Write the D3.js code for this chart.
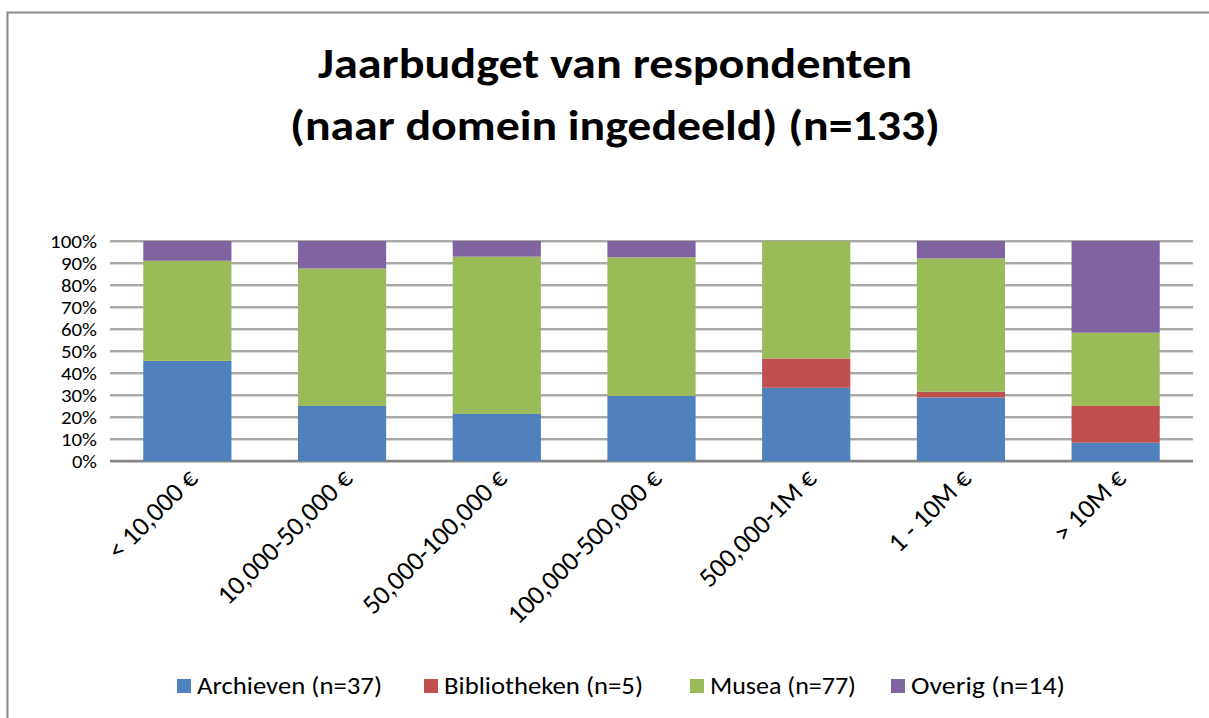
<!DOCTYPE html>
<html>
<head>
<meta charset="utf-8">
<script src="https://cdn.jsdelivr.net/npm/d3@7"></script>
<style>
  body { margin: 0; background: #fff; }
  svg { display: block; font-family: Carlito, Calibri, Lato, sans-serif; }
</style>
</head>
<body>
<script>
// categories and series (share per budget class, %)
var categories = ["< 10,000 €", "10,000-50,000 €", "50,000-100,000 €", "100,000-500,000 €", "500,000-1M €", "1 - 10M €", "> 10M €"];
var seriesNames = ["Archieven (n=37)", "Bibliotheken (n=5)", "Musea (n=77)", "Overig (n=14)"];
var seriesColors = ["#4f81bd", "#c0504d", "#9bbb59", "#8064a2"];
var archieven    = [45.5, 25.0, 21.4, 29.6, 33.3, 28.9, 8.3];
var bibliotheken = [0, 0, 0, 0, 13.3, 2.6, 16.7];
var musea        = [45.5, 62.5, 71.5, 63.0, 53.4, 60.6, 33.3];
var overig       = [9.0, 12.5, 7.1, 7.4, 0, 7.9, 41.7];
var yTicks = [0, 10, 20, 30, 40, 50, 60, 70, 80, 90, 100];
var titleLines = ["Jaarbudget van respondenten", "(naar domein ingedeeld) (n=133)"];

var w = 1209, h = 718;
var plot = {left: 110, right: 1193, top: 241, bottom: 461};

var svg = d3.select("body").append("svg")
  .attr("width", w)
  .attr("height", h);

// chart border
svg.append("rect")
  .attr("x", 7.5).attr("y", 12.5)
  .attr("width", w).attr("height", h)
  .attr("fill", "none")
  .attr("stroke", "#878787")
  .attr("stroke-width", 2);

// title (widths fitted to the original)
var titleWidths = [594, 650];
svg.append("g").selectAll("text")
  .data(titleLines)
  .enter().append("text")
  .attr("x", 615)
  .attr("y", function(d, i) { return 78 + i * 62; })
  .attr("text-anchor", "middle")
  .attr("textLength", function(d, i) { return titleWidths[i]; })
  .attr("lengthAdjust", "spacingAndGlyphs")
  .style("font-size", "43px")
  .style("font-weight", "bold")
  .text(function(d) { return d; });

var x = d3.scaleBand()
  .domain(categories)
  .range([plot.left, plot.right])
  .paddingInner(0.43)
  .paddingOuter(0.215);

var y = d3.scaleLinear()
  .domain([0, 100])
  .range([plot.bottom, plot.top]);

// gridlines
var grid = svg.append("g");
grid.selectAll("line.shade")
  .data(yTicks)
  .enter().append("line")
  .attr("x1", plot.left).attr("x2", plot.right)
  .attr("y1", function(d) { return y(d) + 1.5; })
  .attr("y2", function(d) { return y(d) + 1.5; })
  .attr("stroke", "#d9d9d9")
  .attr("stroke-width", 1);
grid.selectAll("line.main")
  .data(yTicks)
  .enter().append("line")
  .attr("x1", plot.left).attr("x2", plot.right)
  .attr("y1", function(d) { return y(d); })
  .attr("y2", function(d) { return y(d); })
  .attr("stroke", function(d) { return d === 0 ? "#868686" : "#8c8c8c"; })
  .attr("stroke-width", function(d) { return d === 0 ? 2.5 : 1.5; });

// y axis labels
var yAxis = d3.axisLeft(y)
  .tickValues(yTicks)
  .tickFormat(function(d) { return d + "%"; })
  .tickSize(0)
  .tickPadding(0);
var yg = svg.append("g")
  .attr("transform", "translate(97,0)")
  .call(yAxis);
yg.select(".domain").remove();
yg.selectAll("text")
  .style("font-size", "18px")
  .style("font-family", "Carlito, Calibri, Lato, sans-serif")
  .attr("fill", "#000")
  .attr("dy", "0.36em")
  .attr("textLength", function(d) { return String(d).length * 11 + 14; })
  .attr("lengthAdjust", "spacingAndGlyphs");

// stacked bars
var rows = categories.map(function(c, i) {
  return {cat: c, s0: archieven[i], s1: bibliotheken[i], s2: musea[i], s3: overig[i]};
});
var stack = d3.stack().keys(["s0", "s1", "s2", "s3"]);
var layers = stack(rows);

svg.append("g")
  .selectAll("g")
  .data(layers)
  .enter().append("g")
  .attr("fill", function(d, i) { return seriesColors[i]; })
  .selectAll("rect")
  .data(function(d) { return d; })
  .enter().append("rect")
  .attr("x", function(d) { return x(d.data.cat); })
  .attr("width", x.bandwidth())
  .attr("y", function(d) { return y(d[1]); })
  .attr("height", function(d) { return Math.max(0, y(d[0]) - y(d[1])); });

// x axis labels
var xAxis = d3.axisBottom(x).tickSize(0).tickPadding(0);
var xg = svg.append("g")
  .attr("transform", "translate(0," + plot.bottom + ")")
  .call(xAxis);
xg.select(".domain").remove();
xg.selectAll("text")
  .style("font-size", "27px")
  .style("font-family", "Carlito, Calibri, Lato, sans-serif")
  .attr("fill", "#000")
  .attr("text-anchor", "end")
  .attr("dy", "0")
  .attr("y", 0)
  .attr("transform", "translate(12,19) rotate(-45)");

// legend
var legendX = [177, 424, 690, 891];
var legendW = [185, 199, 146, 154];
var legend = svg.append("g")
  .selectAll("g")
  .data(seriesNames)
  .enter().append("g")
  .attr("transform", function(d, i) { return "translate(" + legendX[i] + ",687)"; });
legend.append("rect")
  .attr("x", 0).attr("y", -8)
  .attr("width", 14).attr("height", 14)
  .attr("fill", function(d, i) { return seriesColors[i]; });
legend.append("text")
  .attr("x", 20)
  .attr("y", 7)
  .attr("textLength", function(d, i) { return legendW[i]; })
  .attr("lengthAdjust", "spacingAndGlyphs")
  .style("font-size", "24px")
  .text(function(d) { return d; });
</script>
</body>
</html>
